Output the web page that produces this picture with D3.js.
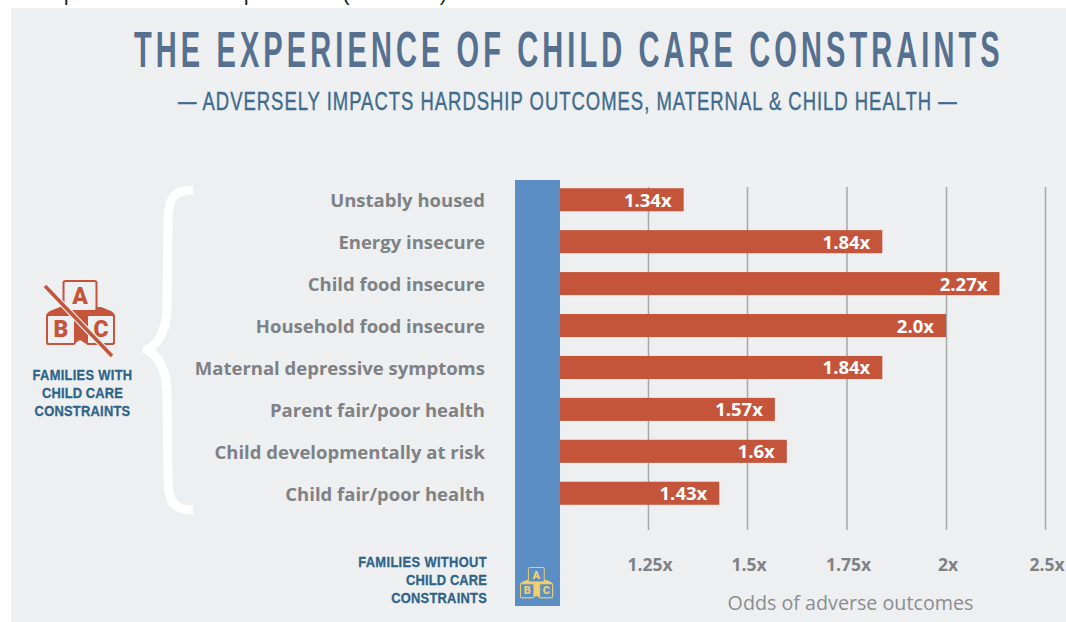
<!DOCTYPE html>
<html>
<head>
<meta charset="utf-8">
<script src="https://cdn.jsdelivr.net/npm/d3@7/dist/d3.min.js"></script>
<style>
  html, body { margin: 0; padding: 0; background: #fff; }
  svg { display: block; }
  text { font-family: "Open Sans", "Noto Sans", sans-serif; }
  .squeezed { font-family: "Liberation Sans", sans-serif; }
</style>
</head>
<body>
<svg id="chart" width="1066" height="622"></svg>
<script>
// Chart content
const categories = [
  "Unstably housed", "Energy insecure", "Child food insecure", "Household food insecure",
  "Maternal depressive symptoms", "Parent fair/poor health", "Child developmentally at risk", "Child fair/poor health"
];
const oddsValues = [1.34, 1.84, 2.27, 2.0, 1.84, 1.57, 1.6, 1.43];
const oddsLabels = ["1.34x", "1.84x", "2.27x", "2.0x", "1.84x", "1.57x", "1.6x", "1.43x"];
const tickValues = [1.25, 1.5, 1.75, 2, 2.5];
const tickLabels = ["1.25x", "1.5x", "1.75x", "2x", "2.5x"];
const withLines = ["FAMILIES WITH", "CHILD CARE", "CONSTRAINTS"];
const withoutLines = ["FAMILIES WITHOUT", "CHILD CARE", "CONSTRAINTS"];

const colors = {
  panel: "#edeff1", title: "#56708f", subtitle: "#3f6b8c", label: "#7f8285", grid: "#a6a9a5",
  bar: "#c4553a", baseline: "#5b8ec4", navy: "#2f6488", blocks: "#f2cf6e", axisTitle: "#8b8d8f"
};

const svg = d3.select("#chart");

// Condensed caps: glyphs squeezed horizontally, tracking opened up to reach a set width
function squeezedText(parent, str, opts) {
  const t = parent.append("text").attr("class", "squeezed")
    .attr("font-size", opts.size).attr("font-weight", opts.weight).attr("fill", opts.fill)
    .attr("text-anchor", opts.anchor || "start").text(str);
  const natural = t.node().getComputedTextLength();
  const tracking = (opts.width / opts.squeeze - natural) / str.length;
  t.style("letter-spacing", tracking + "px")
    .attr("transform", `translate(${opts.x},${opts.y}) scale(${opts.squeeze},1)`);
  if (opts.heavy) t.attr("stroke", opts.fill).attr("stroke-width", opts.heavy);
  return t;
}

// Line of running text from the page above the panel, cut off by the top edge
svg.append("text").attr("x", 15).attr("y", 0)
  .attr("font-size", 22).attr("fill", "#222")
  .attr("textLength", 432).attr("lengthAdjust", "spacing")
  .style("font-family", "'Liberation Sans', sans-serif")
  .text("compared to white parents (Table 3)");

svg.append("rect").attr("x", 11).attr("y", 8).attr("width", 1055).attr("height", 614).attr("fill", colors.panel);

// Heading
squeezedText(svg, "THE EXPERIENCE OF CHILD CARE CONSTRAINTS",
  { x: 134, y: 67, size: 50, weight: 700, fill: colors.title, width: 870, squeeze: 0.58 });
squeezedText(svg, "— ADVERSELY IMPACTS HARDSHIP OUTCOMES, MATERNAL & CHILD HEALTH —",
  { x: 178, y: 110, size: 25, weight: 400, fill: colors.subtitle, width: 780, squeeze: 0.74, heavy: 0.4 });

// Scales: the axis steps by quarters up to 2x, then jumps to 2.5x
const x = d3.scaleLinear().domain([1, ...tickValues]).range([549, 648, 747, 846.5, 946, 1045]);
const y = d3.scaleBand().domain(categories).range([179, 514]).paddingInner(0.45).paddingOuter(0.22);

// Gridlines and tick labels
const axis = d3.axisBottom(x)
  .tickValues(tickValues)
  .tickSize(-343)
  .tickPadding(29)
  .tickFormat((d, i) => tickLabels[i]);

const axisG = svg.append("g").attr("transform", "translate(0,530)").call(axis);
axisG.select(".domain").remove();
axisG.selectAll("line").attr("stroke", colors.grid).attr("stroke-width", 1.5);
axisG.selectAll("text")
  .attr("dx", 1.5)
  .attr("fill", colors.label).attr("font-size", 17.5).attr("font-weight", 700);

// Bars measured from the 1x baseline
svg.append("g").selectAll("rect").data(categories).join("rect")
  .attr("x", x(1))
  .attr("y", d => y(d))
  .attr("height", y.bandwidth())
  .attr("width", (d, i) => x(oddsValues[i]) - x(1))
  .attr("fill", colors.bar);

svg.append("g").selectAll("text").data(categories).join("text")
  .attr("x", (d, i) => x(oddsValues[i]) - 12)
  .attr("y", d => y(d) + y.bandwidth() / 2 + 7)
  .attr("text-anchor", "end")
  .attr("font-size", 18.5).attr("font-weight", 700).attr("fill", "#fff")
  .text((d, i) => oddsLabels[i]);

// Category labels
svg.append("g").selectAll("text").data(categories).join("text")
  .attr("x", 485)
  .attr("y", d => y(d) + y.bandwidth() / 2 + 7.5)
  .attr("text-anchor", "end")
  .attr("font-size", 18.5).attr("font-weight", 700).attr("fill", colors.label)
  .text(d => d);

// Baseline column for families without constraints
svg.append("rect").attr("x", 515).attr("y", 180).attr("width", 45).attr("height", 426).attr("fill", colors.baseline);

// Brace grouping the outcomes
svg.append("path")
  .attr("d", "M193,190 C175,190 168,196 168,222 L167,305 C167,332 158,344 147,350 C158,356 167,368 167,395 L168,478 C168,504 175,510 193,510")
  .attr("fill", "none").attr("stroke", "#fff").attr("stroke-width", 9).attr("stroke-linejoin", "round");

// Stack of three alphabet blocks, drawn in a 69×70 box
function drawBlocks(parent, color) {
  const faces = [
    { letter: "A", x: 17.5, y: 1, w: 33, h: 30, tx: 34, ty: 24 },
    { letter: "B", x: 1, y: 35, w: 28, h: 29, tx: 15, ty: 57 },
    { letter: "C", x: 41, y: 35, w: 27, h: 29, tx: 55, ty: 57 }
  ];
  // Shaded tops and inner sides of the lower blocks
  parent.append("path")
    .attr("d", "M0,37 Q0,33 4,31 L14,27 L55,27 L65,31 Q69,33 69,37 L69,62 Q69,65 66,65 L42,65 L34,60 L26,65 L3,65 Q0,65 0,62 Z")
    .attr("fill", color);
  faces.forEach(f => {
    parent.append("rect").attr("x", f.x).attr("y", f.y).attr("width", f.w).attr("height", f.h).attr("rx", 2)
      .attr("fill", parent.attr("data-bg"))
      .attr("stroke", color).attr("stroke-width", 2);
    parent.append("text").attr("x", f.tx).attr("y", f.ty).attr("text-anchor", "middle")
      .attr("font-size", 23).attr("font-weight", 900).attr("fill", color)
      .style("font-family", "Roboto, sans-serif").text(f.letter);
  });
}

const crossed = svg.append("g").attr("transform", "translate(46,280)").attr("data-bg", colors.panel);
drawBlocks(crossed, colors.bar);
crossed.append("line").attr("x1", -1).attr("y1", 6).attr("x2", 66).attr("y2", 76)
  .attr("stroke", colors.panel).attr("stroke-width", 6);
crossed.append("line").attr("x1", -1).attr("y1", 6).attr("x2", 66).attr("y2", 76)
  .attr("stroke", colors.bar).attr("stroke-width", 3.5);

const plain = svg.append("g").attr("transform", "translate(520,567) scale(0.48)").attr("data-bg", colors.baseline);
drawBlocks(plain, colors.blocks);

// Group captions, each line set to its own width
const withWidths = [100, 81, 96];
const withoutWidths = [129, 81, 96];
withLines.forEach((line, i) => squeezedText(svg, line,
  { x: 82.5, y: 380 + i * 18, size: 15, weight: 700, fill: colors.navy, width: withWidths[i], squeeze: 0.86, anchor: "middle", heavy: 0.3 }));
withoutLines.forEach((line, i) => squeezedText(svg, line,
  { x: 487, y: 567 + i * 18, size: 15, weight: 700, fill: colors.navy, width: withoutWidths[i], squeeze: 0.86, anchor: "end", heavy: 0.3 }));

// Axis title
svg.append("text").attr("x", 850.5).attr("y", 610).attr("text-anchor", "middle")
  .attr("font-size", 19.7).attr("fill", colors.axisTitle)
  .text("Odds of adverse outcomes");
</script>
</body>
</html>
